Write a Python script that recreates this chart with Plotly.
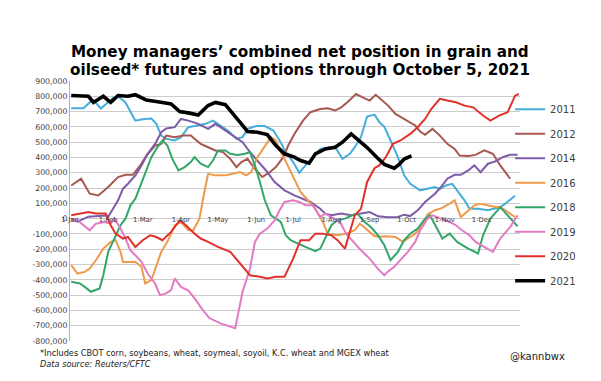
import plotly.graph_objects as go

# ---- data (x = day of year, 0 = 1 Jan; values in thousands of contracts) ----
days_2011 = [1, 11, 16, 19, 25, 31, 35, 39, 45, 53, 59, 66, 70, 74, 78, 85, 90, 96, 102, 110, 116, 122, 128, 135, 140, 144, 151, 158, 165, 170, 175, 181, 186, 191, 199, 203, 211, 216, 221, 227, 231, 236, 241, 247, 251, 255, 260, 266, 271, 276, 284, 290, 296, 300, 305, 310, 314, 320, 324, 331, 339, 345, 349, 353, 361]
vals_2011 = [722, 722, 760, 775, 720, 760, 790, 800, 760, 641, 650, 655, 620, 543, 522, 511, 533, 598, 609, 620, 641, 609, 576, 522, 533, 587, 605, 605, 576, 511, 435, 370, 300, 348, 424, 456, 467, 456, 391, 424, 467, 533, 668, 680, 630, 600, 511, 402, 283, 228, 185, 195, 207, 195, 217, 228, 185, 120, 65, 65, 55, 65, 76, 98, 150]

days_2012 = [1, 9, 16, 23, 31, 39, 45, 51, 57, 62, 69, 74, 78, 85, 92, 98, 101, 106, 112, 118, 124, 130, 135, 139, 144, 150, 156, 162, 167, 173, 177, 182, 189, 195, 203, 209, 215, 220, 225, 232, 237, 243, 248, 252, 258, 264, 271, 280, 284, 288, 294, 300, 306, 312, 316, 323, 329, 336, 343, 349, 357]
vals_2012 = [217, 261, 163, 152, 207, 272, 287, 287, 348, 413, 478, 489, 543, 533, 543, 543, 522, 489, 467, 446, 435, 391, 337, 370, 391, 326, 272, 304, 337, 402, 478, 554, 641, 696, 717, 722, 707, 728, 761, 815, 794, 772, 810, 783, 739, 685, 652, 609, 570, 548, 587, 543, 489, 456, 413, 409, 417, 446, 424, 348, 261]

days_2014 = [1, 6, 15, 23, 29, 31, 35, 39, 43, 47, 53, 58, 63, 69, 74, 78, 85, 90, 96, 104, 112, 118, 122, 128, 135, 140, 146, 152, 159, 166, 174, 182, 189, 195, 203, 207, 212, 220, 228, 236, 243, 250, 258, 266, 271, 276, 282, 288, 296, 301, 306, 312, 317, 323, 328, 333, 339, 345, 351, 357, 363]
vals_2014 = [0, -20, 13, 15, 20, 13, 65, 120, 196, 228, 283, 348, 424, 489, 565, 590, 598, 652, 641, 620, 587, 620, 598, 565, 522, 500, 435, 380, 315, 239, 185, 152, 130, 109, 65, 33, 22, 33, 22, 33, 43, 15, 9, 11, 26, 17, 54, 109, 163, 207, 261, 287, 287, 315, 348, 304, 359, 374, 402, 417, 417]

days_2016 = [1, 6, 12, 16, 21, 27, 33, 37, 41, 43, 49, 53, 58, 61, 66, 70, 74, 79, 85, 90, 96, 100, 105, 109, 112, 118, 126, 132, 138, 143, 147, 152, 158, 163, 167, 170, 174, 178, 182, 187, 193, 199, 205, 209, 217, 224, 231, 235, 240, 246, 250, 256, 264, 270, 276, 280, 286, 290, 296, 302, 308, 312, 317, 323, 328, 333, 339, 345, 349, 355, 361]
vals_2016 = [-304, -359, -348, -326, -272, -196, -152, -141, -217, -283, -283, -283, -315, -424, -402, -315, -217, -152, -43, -22, -76, -76, 0, 174, 293, 283, 283, 293, 304, 283, 304, 402, 478, 533, 511, 446, 391, 326, 261, 174, 120, 65, -20, -98, -109, -98, -76, -33, -65, -109, -120, -115, -120, -152, -120, -98, -43, 27, 55, 70, 98, 120, 11, 55, 87, 98, 87, 76, 76, 43, 11]

days_2018 = [1, 8, 12, 17, 24, 27, 31, 36, 41, 45, 49, 53, 58, 62, 66, 70, 75, 79, 83, 88, 93, 98, 101, 106, 112, 116, 120, 126, 130, 136, 142, 146, 150, 154, 158, 163, 171, 175, 179, 185, 191, 199, 203, 207, 212, 217, 223, 229, 233, 239, 244, 250, 255, 260, 266, 271, 276, 282, 288, 292, 302, 308, 314, 323, 331, 335, 341, 349, 357, 363]
vals_2018 = [-413, -424, -446, -478, -456, -370, -217, -130, -43, 0, 87, 130, 239, 326, 402, 456, 511, 478, 391, 315, 337, 370, 402, 359, 337, 380, 446, 446, 424, 417, 424, 435, 348, 239, 120, 22, -22, -109, -141, -163, -185, -213, -196, -130, -43, -11, 0, 22, 33, -22, -55, -110, -174, -272, -217, -141, -98, -65, 0, 22, -130, -98, -152, -196, -228, -109, 0, 75, 0, -50]

days_2019 = [1, 6, 16, 21, 28, 33, 36, 41, 45, 49, 53, 58, 63, 69, 73, 78, 82, 85, 90, 96, 101, 107, 113, 122, 134, 140, 146, 150, 154, 160, 166, 170, 174, 181, 186, 191, 197, 203, 207, 212, 219, 224, 231, 236, 243, 250, 255, 258, 263, 268, 274, 280, 284, 290, 294, 301, 308, 313, 318, 324, 329, 336, 343, 349, 357, 363]
vals_2019 = [-10, -11, -76, -33, -22, -33, 0, -65, -130, -207, -239, -283, -359, -424, -500, -489, -467, -391, -446, -470, -520, -590, -650, -685, -717, -478, -326, -152, -98, -65, -11, 55, 109, 120, 109, 87, 87, 11, 33, 11, -22, -98, -163, -207, -261, -330, -370, -345, -315, -272, -217, -152, -76, 0, 22, 0, -22, -43, -76, -109, -152, -185, -217, -130, -55, 22]

days_2020 = [1, 8, 15, 21, 29, 33, 37, 43, 47, 53, 59, 65, 70, 75, 82, 89, 94, 101, 106, 112, 120, 130, 139, 146, 154, 160, 167, 174, 181, 187, 194, 199, 205, 212, 217, 223, 227, 231, 236, 241, 247, 251, 256, 262, 268, 276, 282, 288, 293, 300, 306, 313, 320, 327, 335, 341, 348, 355, 361, 364]
vals_2020 = [22, 33, 43, 33, 33, -43, -98, -130, -120, -185, -141, -109, -120, -141, -87, -11, -43, -98, -130, -152, -185, -217, -304, -370, -380, -391, -380, -380, -261, -141, -141, -98, -98, -109, -141, -196, -87, 22, 65, 240, 330, 350, 400, 489, 511, 554, 598, 652, 717, 783, 772, 761, 739, 728, 674, 641, 674, 696, 804, 815]

days_2021 = [1, 8, 15, 19, 27, 33, 39, 47, 53, 62, 69, 75, 82, 89, 97, 104, 112, 118, 126, 132, 139, 144, 152, 160, 167, 174, 182, 187, 194, 199, 207, 215, 221, 228, 233, 241, 249, 255, 263, 267, 271, 277]
vals_2021 = [805, 800, 800, 760, 800, 760, 805, 800, 810, 775, 770, 760, 750, 700, 690, 678, 740, 760, 745, 690, 620, 570, 565, 550, 478, 424, 402, 380, 363, 424, 456, 467, 500, 554, 520, 465, 400, 355, 330, 355, 390, 410]

series_names = ["2011", "2012", "2014", "2016", "2018", "2019", "2020", "2021"]
series_days = [days_2011, days_2012, days_2014, days_2016, days_2018, days_2019, days_2020, days_2021]
series_vals = [vals_2011, vals_2012, vals_2014, vals_2016, vals_2018, vals_2019, vals_2020, vals_2021]
colors = ["#45AEDA", "#A8574F", "#7E5BA8", "#EE9A4A", "#33A66A", "#E27AC6", "#E2312B", "#000000"]
widths = [2, 2, 2, 2, 2, 2, 2, 3.6]

month_days = [0, 31, 59, 90, 120, 151, 181, 212, 243, 273, 304, 334]
month_labels = ["1-Jan", "1-Feb", "1-Mar", "1-Apr", "1-May", "1-Jun", "1-Jul", "1-Aug", "1-Sep", "1-Oct", "1-Nov", "1-Dec"]
y_ticks = list(range(-800000, 900001, 100000))

title_lines = ["Money managers’ combined net position in grain and",
               "oilseed* futures and options through October 5, 2021"]
footnote_lines = ["*Includes CBOT corn, soybeans, wheat, soymeal, soyoil, K.C. wheat and MGEX wheat",
                  "<i>Data source: Reuters/CFTC</i>"]
credit = "@kannbwx"

fig = go.Figure()
for name, d, v, c, w in zip(series_names, series_days, series_vals, colors, widths):
    fig.add_trace(go.Scatter(
        x=d, y=[val * 1000 for val in v], mode="lines", name=name,
        legendgroup=name,
        line=dict(color=c, width=w),
    ))

FONT = "DejaVu Sans, Liberation Sans, Arial, sans-serif"
annotations = [
    dict(text=f"<b>{title_lines[0]}</b>", xref="paper", yref="paper", x=0.51, y=(333 - 44) / 260,
         xanchor="center", yanchor="middle", showarrow=False,
         font=dict(size=15.2, color="#000000", family=FONT)),
    dict(text=f"<b>{title_lines[1]}</b>", xref="paper", yref="paper", x=0.51, y=(333 - 62) / 260,
         xanchor="center", yanchor="middle", showarrow=False,
         font=dict(size=15.2, color="#000000", family=FONT)),
    dict(text=footnote_lines[0], xref="paper", yref="paper", x=(30 - 62) / 450, y=(333 - 345) / 260,
         xanchor="left", yanchor="middle", showarrow=False,
         font=dict(size=8.2, color="#202020", family=FONT)),
    dict(text=footnote_lines[1], xref="paper", yref="paper", x=(30 - 62) / 450, y=(333 - 356) / 260,
         xanchor="left", yanchor="middle", showarrow=False,
         font=dict(size=8.2, color="#202020", family=FONT)),
    dict(text=credit, xref="paper", yref="paper", x=(500 - 62) / 450, y=(333 - 348) / 260,
         xanchor="left", yanchor="middle", showarrow=False,
         font=dict(size=10, color="#202020", family=FONT)),
]

fig.update_layout(
    width=601, height=381,
    margin=dict(l=62, r=89, t=73, b=48),
    paper_bgcolor="white", plot_bgcolor="white",
    font=dict(family=FONT, color="#404040"),
    showlegend=True,
    legend=dict(x=0.978, y=0.947, xanchor="left", yanchor="top",
                font=dict(size=10, color="#404040"),
                tracegroupgap=5.5, itemwidth=30, bgcolor="rgba(0,0,0,0)"),
    xaxis=dict(range=[0, 365], tickmode="array", tickvals=month_days, ticktext=month_labels,
               anchor="free", position=8 / 17 + 4 / 260, showgrid=False, zeroline=False,
               showline=False, ticks="",
               tickfont=dict(size=6.8, color="#404040")),
    yaxis=dict(range=[-800000, 900000], tickmode="array", tickvals=y_ticks,
               ticktext=[f"{t:,}" for t in y_ticks],
               showgrid=True, gridcolor="#cccccc", gridwidth=1, zeroline=False,
               showline=True, linecolor="#b0b0b0", linewidth=1,
               ticks="", tickfont=dict(size=7.8, color="#404040")),
    annotations=annotations,
)

fig.write_html("out.html")
